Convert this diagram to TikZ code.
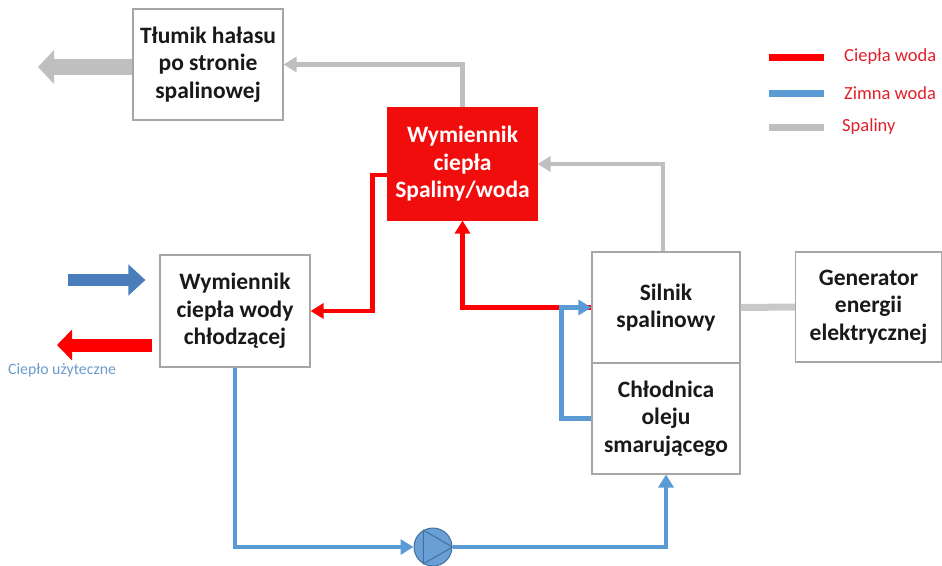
\documentclass[tikz,border=0pt]{standalone}
\usepackage{fontspec}
\setmainfont{Carlito}
\usetikzlibrary{arrows.meta,calc}
\definecolor{hotred}{HTML}{FF0000}
\definecolor{boxred}{HTML}{F20D0D}
\definecolor{coldblue}{HTML}{5B9BD5}
\definecolor{inblue}{HTML}{4A7EBB}
\definecolor{gasgray}{HTML}{BFBFBF}
\definecolor{boxgray}{HTML}{A6A6A6}
\definecolor{legred}{HTML}{E0202A}
\definecolor{usefulblue}{HTML}{6A9BCB}
\definecolor{pumpfill}{HTML}{6A9FD6}
\definecolor{pumpline}{HTML}{41719C}
\begin{document}
\begin{tikzpicture}[x=1pt,y=-1pt,
  box/.style={draw=boxgray, line width=1.1pt, fill=white, align=center,
    inner sep=0pt, font=\fontsize{23.5}{27.5}\selectfont\bfseries, text=black!90},
  hotbox/.style={box, draw=boxred, fill=boxred, text=white},
  pipetip/.style={-{Triangle[width=15pt,length=13pt]}},
  redline/.style={draw=hotred, line width=4.5pt, pipetip},
  blueline/.style={draw=coldblue, line width=4.5pt, pipetip},
  grayline/.style={draw=gasgray, line width=4.5pt, pipetip},
  legline/.style={line width=7pt},
  legtext/.style={anchor=west, text=legred, font=\fontsize{18.5}{21}\selectfont},
]
\useasboundingbox (0,0) rectangle (942,565);
\clip (0,0) rectangle (942,565);

% boxes
\node[box, minimum width=150pt, minimum height=111pt] (tlumik) at (208,64.5)
  {Tłumik hałasu\\po stronie\\spalinowej};
\node[hotbox, minimum width=149pt, minimum height=112pt] (hx) at (462.5,164)
  {Wymiennik\\ciepła\\Spaliny/woda};
\node[box, minimum width=150pt, minimum height=112pt] (wcw) at (235,311)
  {Wymiennik\\ciepła wody\\chłodzącej};
\node[box, minimum width=148pt, minimum height=111pt] (silnik) at (666,307.5)
  {Silnik\\spalinowy};
\node[box, minimum width=148pt, minimum height=111pt] (chlod) at (666,418.5)
  {Chłodnica\\oleju\\smarującego};
\node[box, minimum width=146pt, minimum height=110pt] (gen) at (868.5,307)
  {Generator\\energii\\elektrycznej};
\node[circle, draw=pumpline, fill=pumpfill, line width=1pt, minimum size=38pt, inner sep=0pt] (pump) at (433,547) {};
\draw[pumpline, line width=1pt] (pump.east) -- (pump.120) -- (pump.240) -- cycle;

% exhaust gas
\draw[grayline] (hx.north) |- (tlumik.east);
\draw[grayline] ([xshift=-3pt]silnik.north) |- (hx.east);
\draw[draw=gasgray!85, line width=7pt] (silnik.east) -- (gen.west);

% hot water
\draw[redline] ([yshift=-11pt]hx.west) -- ++(-15,0) |- (wcw.east);
\draw[redline] (silnik.west) -| (hx.south);

% cold water
\draw[blueline] (chlod.west) -- ++(-30,0) |- (silnik.west);
\draw[blueline] (wcw.south) |- (pump.west);
\draw[blueline] (pump.east) -| (chlod.south);

% block arrows on the left
\coordinate (gasout) at (38,67);
\coordinate (coldin) at (68,280);
\coordinate (heatout) at (57,345);
\draw[draw=gasgray, line width=16pt, -{Triangle[width=33pt,length=16pt]}]
  ([yshift=-2.5pt]tlumik.west) -- (gasout);
\draw[draw=inblue, line width=12pt, -{Triangle[width=30pt,length=17pt]}]
  (coldin) -- ([xshift=-14pt,yshift=31pt]wcw.west);
\draw[draw=hotred, line width=13pt, -{Triangle[width=30pt,length=15pt]}]
  ([xshift=-7pt,yshift=-34pt]wcw.west) -- (heatout);
\node[anchor=west, text=usefulblue, font=\fontsize{15.8}{18}\selectfont, inner sep=0pt] (useful) at (8,370) {Ciepło użyteczne};

% legend
\coordinate (l1a) at (769,57); \coordinate (l1b) at (824,57);
\coordinate (l2a) at (769,93); \coordinate (l2b) at (824,93);
\coordinate (l3a) at (769,127); \coordinate (l3b) at (824,127);
\draw[legline, hotred] (l1a) -- (l1b);
\draw[legline, coldblue] (l2a) -- (l2b);
\draw[legline, gasgray] (l3a) -- (l3b);
\node[legtext, inner sep=0pt] (t1) at (844,57) {Ciepła woda};
\node[legtext, inner sep=0pt] (t2) at (844,93) {Zimna woda};
\node[legtext, inner sep=0pt] (t3) at (842,127) {Spaliny};
\end{tikzpicture}
\end{document}
